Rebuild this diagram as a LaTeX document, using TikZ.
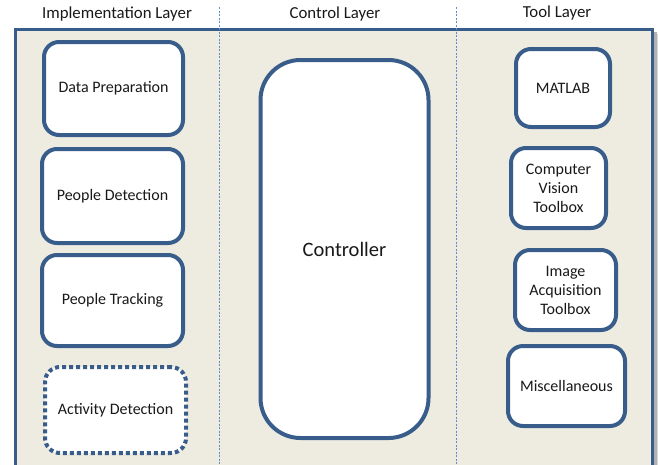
\documentclass[tikz,border=0pt]{standalone}
\usepackage{fontspec}
\setmainfont{Carlito}
\definecolor{bg}{HTML}{EEECE1}
\definecolor{bd}{HTML}{385D8A}
\definecolor{dl}{HTML}{5B8FD0}
\begin{document}
\begin{tikzpicture}[x=1pt,y=-1pt,
  box/.style={draw=bd,line width=4pt,fill=white,rounded corners=15pt,align=center,font=\fontsize{16}{19}\selectfont,text=black!90,inner sep=0pt},
  hdr/.style={font=\fontsize{16.8}{19}\selectfont,text=black!90},
  sep/.style={draw=dl,line width=0.6pt,dash pattern=on 2pt off 1.5pt}]
\useasboundingbox (0,0) rectangle (658,464);
\fill[white] (0,0) rectangle (658,464);
% shadow
\fill[black!30] (653,32) rectangle (657,470);
\fill[black!15] (657,34) rectangle (658,470);
% outer panel
\filldraw[fill=bg,draw=bd,line width=3pt] (15,29.5) rectangle (652,475);
% separators
\draw[sep] (219,7) -- (219,464);
\draw[sep] (456,7) -- (456,464);
% headers
\node[hdr] (h1) at (117,14) {Implementation Layer};
\node[hdr] (h2) at (335,14) {Control Layer};
\node[hdr] (h3) at (557,13) {Tool Layer};
% implementation
\node[box,minimum width=139pt,minimum height=93pt] (dp) at (113.5,88.5) {Data Preparation};
\node[box,minimum width=141pt,minimum height=94pt] (pd) at (112.5,196) {People Detection};
\node[box,minimum width=141pt,minimum height=91pt] (pt) at (112.5,300.5) {People Tracking};
\node[box,minimum width=141pt,minimum height=86pt,dash pattern=on 4pt off 3pt] (ad) at (115.5,410) {Activity Detection};
% control
\node[box,minimum width=168pt,minimum height=378pt,rounded corners=40pt,font=\fontsize{20.5}{24}\selectfont] (ctl) at (344.5,249) {Controller};
% tools
\node[box,minimum width=94pt,minimum height=78pt] (ml) at (563,88) {MATLAB};
\node[box,minimum width=95pt,minimum height=80pt] (cv) at (558.5,188) {Computer\\Vision\\Toolbox};
\node[box,minimum width=101pt,minimum height=80pt] (ia) at (565.5,290) {Image\\Acquisition\\Toolbox};
\node[box,minimum width=117pt,minimum height=80pt] (mi) at (566.5,386) {Miscellaneous};
\end{tikzpicture}
\end{document}
